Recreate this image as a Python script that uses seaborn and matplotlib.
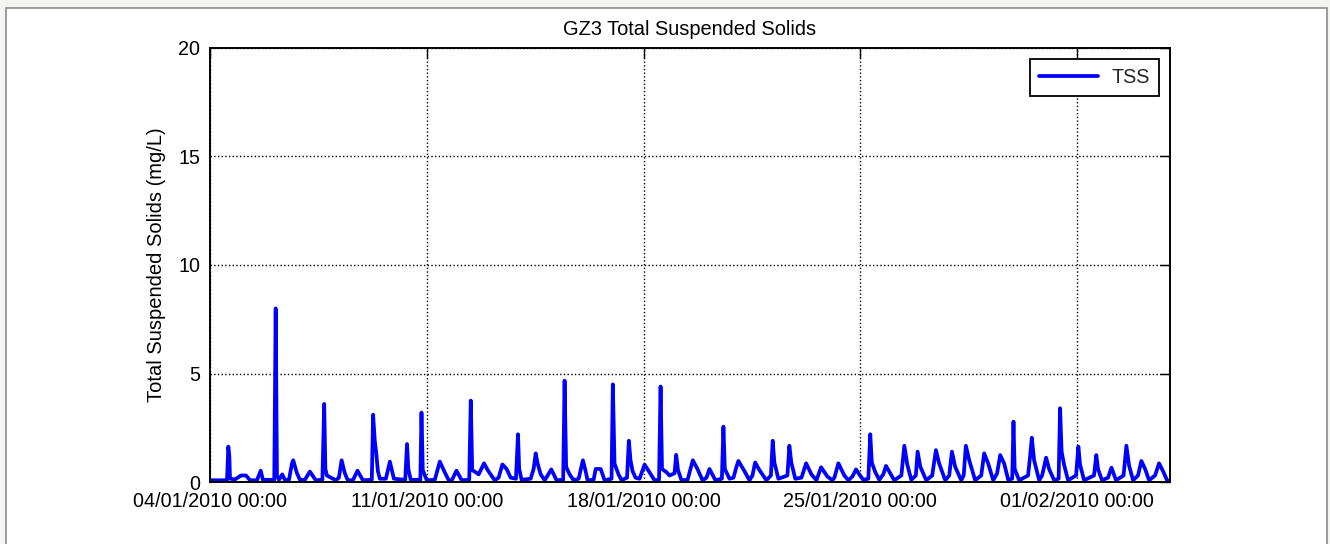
import matplotlib
matplotlib.use("Agg")
import matplotlib.pyplot as plt
from matplotlib.patches import Rectangle
import pandas as pd
import seaborn as sns

# Hourly offsets from 04/01/2010 00:00 and the TSS readings (mg/L)
hours = [
    0.0, 12.4, 13.2, 14.2, 15.0, 15.5, 19.4, 24.0, 27.9, 31.0, 36.4, 39.3, 41.0,
    49.8, 50.9, 51.9, 53.4, 56.0, 58.0, 61.2, 63.5, 64.5, 67.4, 69.7, 73.5, 77.4,
    82.0, 87.1, 88.5, 89.4, 90.6, 95.2, 97.5, 99.9, 102.0, 104.5, 106.8, 110.7,
    114.3, 118.5, 125.4, 126.4, 127.7, 128.9, 130.1, 131.6, 136.3, 139.4, 142.5,
    151.3, 152.7, 153.7, 155.6, 163.0, 163.9, 164.9, 168.0, 174.2, 178.1, 181.9,
    185.0, 187.4, 191.0, 195.1, 200.9, 202.1, 203.2, 205.9, 208.2, 212.4, 215.2,
    220.6, 223.7, 226.6, 229.9, 233.0, 237.1, 238.7, 239.6, 241.5, 248.5, 250.8,
    252.4, 253.9, 256.3, 259.4, 264.5, 268.6, 273.7, 274.8, 276.0, 278.7, 281.8,
    285.7, 289.0, 291.1, 292.6, 297.3, 298.9, 302.8, 305.8, 311.2, 312.2, 313.5,
    316.6, 318.9, 323.2, 324.6, 325.9, 327.5, 329.8, 332.9, 336.8, 340.6, 344.5,
    348.0, 349.2, 350.3, 353.8, 356.1, 360.0, 361.3, 362.7, 365.4, 370.1, 374.2,
    377.8, 381.7, 384.8, 387.1, 391.7, 396.7, 397.9, 399.0, 402.6, 405.7, 408.0,
    409.5, 414.2, 418.1, 420.4, 422.5, 425.8, 431.2, 434.7, 436.1, 437.4, 440.5,
    447.5, 449.0, 450.5, 453.6, 458.4, 462.0, 466.1, 470.0, 473.6, 478.5, 482.3,
    483.9, 487.0, 491.6, 494.7, 497.8, 500.7, 503.2, 506.3, 510.2, 511.7, 512.9,
    515.6, 518.7, 521.8, 523.9, 527.2, 530.3, 535.8, 538.1, 540.4, 543.5, 547.0,
    548.4, 550.5, 555.1, 559.7, 562.6, 565.1, 569.8, 572.9, 575.0, 577.5, 582.2,
    584.1, 585.8, 588.4, 593.0, 597.7, 600.0, 603.1, 607.0, 610.0, 612.4, 615.5,
    618.6, 621.7, 622.7, 623.6, 627.1, 634.0, 635.6, 636.9, 638.7, 642.6, 644.9,
    648.0, 650.3, 654.2, 657.7, 658.8, 660.0, 661.9, 665.0, 671.2, 673.0, 674.3,
    677.4, 685.1, 686.9, 688.2, 691.3, 696.0, 698.6, 702.2, 708.0, 710.2, 712.3,
    715.4, 719.2, 721.8, 724.7, 727.8, 732.4, 735.5, 738.6, 741.7, 743.5,
]
tss = [
    0.08, 0.08, 0.10, 1.63, 1.20, 0.15, 0.12, 0.30, 0.30, 0.08, 0.08, 0.52, 0.10,
    0.10, 8.00, 0.30, 0.10, 0.35, 0.10, 0.10, 0.85, 1.00, 0.40, 0.10, 0.10, 0.48,
    0.08, 0.10, 3.60, 0.60, 0.30, 0.15, 0.08, 0.20, 1.00, 0.40, 0.08, 0.08,
    0.52, 0.08, 0.10, 3.10, 1.90, 1.30, 0.50, 0.15, 0.15, 0.94, 0.15,
    0.10, 1.75, 0.60, 0.10, 0.10, 3.20, 0.55, 0.08, 0.10, 0.94, 0.45,
    0.08, 0.08, 0.52, 0.08, 0.10, 3.75, 0.55, 0.45, 0.35, 0.86, 0.55,
    0.08, 0.20, 0.81, 0.60, 0.20, 0.15, 2.20, 0.60, 0.10, 0.15, 0.60,
    1.32, 0.85, 0.35, 0.08, 0.58, 0.08, 0.10, 4.67, 0.70, 0.35, 0.08,
    0.15, 1.00, 0.50, 0.08, 0.10, 0.60, 0.60, 0.08, 0.15, 4.50, 0.85,
    0.35, 0.08, 0.20, 1.90, 1.00, 0.50, 0.20, 0.15, 0.80, 0.45, 0.08,
    0.10, 4.40, 0.60, 0.45, 0.30, 0.40, 1.25, 0.55, 0.08, 0.10, 1.00,
    0.60, 0.08, 0.20, 0.60, 0.08, 0.15, 2.55, 0.60, 0.15, 0.20, 0.70,
    0.97, 0.50, 0.08, 0.30, 0.90, 0.55, 0.08, 0.30, 1.90, 0.90, 0.15,
    0.30, 1.67, 0.90, 0.15, 0.20, 0.86, 0.35, 0.08, 0.68, 0.25, 0.08,
    0.20, 0.86, 0.30, 0.08, 0.25, 0.58, 0.35, 0.10, 0.15, 2.20, 0.90,
    0.45, 0.10, 0.35, 0.74, 0.40, 0.08, 0.30, 1.67, 0.80, 0.10, 0.30,
    1.40, 0.70, 0.08, 0.30, 1.47, 0.85, 0.08, 0.30, 1.40, 0.70, 0.08,
    0.30, 1.67, 1.00, 0.08, 0.30, 1.32, 0.85, 0.08, 0.40, 1.24, 0.85,
    0.10, 0.15, 2.78, 0.60, 0.08, 0.30, 1.20, 2.04, 1.00, 0.08, 0.30,
    1.12, 0.60, 0.08, 0.15, 3.40, 1.40, 0.80, 0.08, 0.30, 1.63, 0.80,
    0.08, 0.30, 1.24, 0.60, 0.08, 0.20, 0.66, 0.08, 0.30, 1.67, 0.75,
    0.08, 0.30, 0.97, 0.60, 0.08, 0.30, 0.86, 0.50, 0.08, 0.05,
]

tick_dates = ["2010-01-04", "2010-01-11", "2010-01-18", "2010-01-25", "2010-02-01"]
tick_labels = ["04/01/2010 00:00", "11/01/2010 00:00", "18/01/2010 00:00",
               "25/01/2010 00:00", "01/02/2010 00:00"]
y_ticks = [0, 5, 10, 15, 20]

start = pd.Timestamp("2010-01-04 00:00")
df = pd.DataFrame({
    "time": start + pd.to_timedelta(hours, unit="h"),
    "TSS": tss,
})

sns.set_theme(style="white")
plt.rcParams["font.family"] = ["Liberation Sans", "DejaVu Sans"]

W, H = 1330, 544
fig = plt.figure(figsize=(W / 100, H / 100), dpi=100, facecolor="#f4f4f2")
fig.patches.append(Rectangle((6 / W, -0.05), (1327 - 6) / W, 1.05 - 7.5 / H,
                             transform=fig.transFigure, facecolor="white",
                             edgecolor="#8c8c8c", lw=1.2, zorder=-1))

ax = fig.add_axes([210 / W, 62 / H, 960 / W, 434 / H])
ax.set_facecolor("white")
sns.lineplot(data=df, x="time", y="TSS", ax=ax, color="#0000ff", lw=2.7,
             estimator=None, label="TSS")

ax.set_xlim(start, start + pd.Timedelta(days=31))
ax.set_ylim(0, 20)
ax.set_yticks(y_ticks)
ax.set_xticks(pd.to_datetime(tick_dates))
ax.set_xticklabels(tick_labels)

ax.grid(True, linestyle=":", color="black", lw=1.0)
ax.tick_params(direction="in", length=7, width=1.0, top=True, right=True,
               labelsize=14.2, colors="black", pad=7)
for sp in ax.spines.values():
    sp.set_visible(True)
    sp.set_color("black")
    sp.set_linewidth(1.4)

ax.set_title("GZ3 Total Suspended Solids", fontsize=14.4, pad=9, color="black")
ax.set_xlabel("")
ax.set_ylabel("Total Suspended Solids (mg/L)", fontsize=14.5, labelpad=9,
              color="black")

leg = ax.legend(loc="upper right", fontsize=14.2, frameon=True, fancybox=False,
                handlelength=3.0, handletextpad=0.7, borderpad=0.45,
                borderaxespad=0.55)
leg.get_frame().set_edgecolor("black")
leg.get_frame().set_linewidth(1.3)
leg.get_frame().set_alpha(1)

fig.savefig("out.png", dpi=100, facecolor=fig.get_facecolor())
